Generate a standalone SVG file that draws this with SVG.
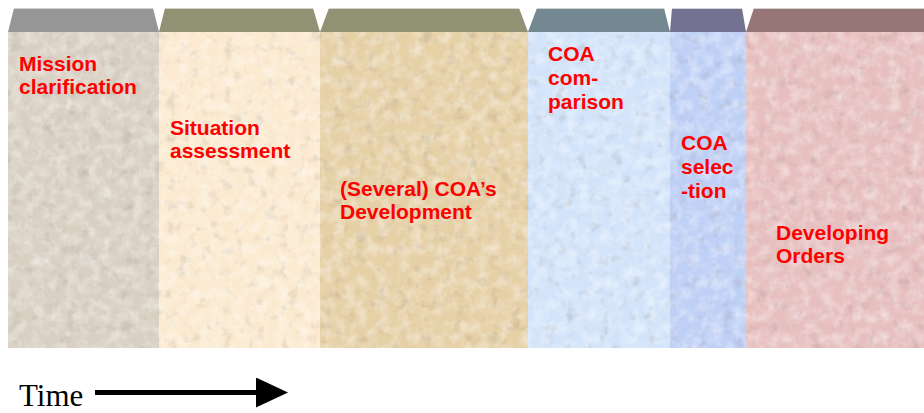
<svg xmlns="http://www.w3.org/2000/svg" width="924" height="413" viewBox="0 0 924 413">
  <defs>
    <!-- fine paper-like mottling laid over each stage body -->
    <filter id="paper" x="0" y="0" width="1" height="1" color-interpolation-filters="sRGB">
      <feTurbulence type="fractalNoise" baseFrequency="0.09" numOctaves="4" seed="7" result="noise"/>
      <feColorMatrix in="noise" type="matrix" values="0 0 0 0 1  0 0 0 0 1  0 0 0 0 1  0 0 0 0.9 -0.35" result="light"/>
      <feColorMatrix in="noise" type="matrix" values="0 0 0 0 0.45  0 0 0 0 0.4  0 0 0 0 0.4  0 -0.5 0 0 0.22" result="dark"/>
      <feMerge result="merged">
        <feMergeNode in="SourceGraphic"/>
        <feMergeNode in="light"/>
        <feMergeNode in="dark"/>
      </feMerge>
      <feComposite in="merged" in2="SourceAlpha" operator="in"/>
    </filter>
    <marker id="arrowhead" viewBox="0 0 32 30" refX="0" refY="15" markerWidth="32" markerHeight="30" markerUnits="userSpaceOnUse" orient="auto">
      <path d="M0,0 L32,15 L0,30 Z" fill="#000"/>
    </marker>
  </defs>
  <style>
    .body { filter: url(#paper); }
    .tab-edge { stroke: #d2d2d2; stroke-width: 1; }
    .label { font-family: "Liberation Sans", Arial, sans-serif; font-weight: bold; font-size: 21px; fill: #ff0000; }
    .axis-label { font-family: "Liberation Serif", "Times New Roman", serif; font-size: 31px; fill: #000; }
  </style>

  <rect width="924" height="413" fill="#ffffff"/>

  <g id="stage-mission">
    <polygon points="8,32 14,8 153,8 159,32" fill="#969696"/>
    <line class="tab-edge" x1="14" y1="8.5" x2="153" y2="8.5"/>
    <rect class="body" x="8" y="32" width="151" height="316" fill="#d9d0c3"/>
    <text class="label" x="19" y="71">Mission</text>
    <text class="label" x="19" y="94">clarification</text>
  </g>

  <g id="stage-situation">
    <polygon points="159,32 165,8 313,8 320,32" fill="#919174"/>
    <line class="tab-edge" x1="165" y1="8.5" x2="313" y2="8.5"/>
    <rect class="body" x="159" y="32" width="161" height="316" fill="#fbead0"/>
    <text class="label" x="170" y="135">Situation</text>
    <text class="label" x="170" y="158">assessment</text>
  </g>

  <g id="stage-development">
    <polygon points="320,32 329,8 519,8 528,32" fill="#919174"/>
    <line class="tab-edge" x1="329" y1="8.5" x2="519" y2="8.5"/>
    <rect class="body" x="320" y="32" width="208" height="316" fill="#e6d0a6"/>
    <text class="label" x="340" y="196">(Several) COA’s</text>
    <text class="label" x="340" y="219">Development</text>
  </g>

  <g id="stage-comparison">
    <polygon points="528,32 537,8 664,8 670,32" fill="#738891"/>
    <line class="tab-edge" x1="537" y1="8.5" x2="664" y2="8.5"/>
    <rect class="body" x="528" y="32" width="142" height="316" fill="#d3e4fa"/>
    <text class="label" x="548" y="61">COA</text>
    <text class="label" x="548" y="85">com-</text>
    <text class="label" x="548" y="109">parison</text>
  </g>

  <g id="stage-selection">
    <polygon points="670,32 672,8 742,8 746,32" fill="#737391"/>
    <line class="tab-edge" x1="672" y1="8.5" x2="742" y2="8.5"/>
    <rect class="body" x="670" y="32" width="76" height="316" fill="#bfd0f6"/>
    <text class="label" x="681" y="150">COA</text>
    <text class="label" x="681" y="174">selec</text>
    <text class="label" x="681" y="198">-tion</text>
  </g>

  <g id="stage-orders">
    <polygon points="746,32 754,8 924,8 924,32" fill="#967676"/>
    <line class="tab-edge" x1="754" y1="8.5" x2="924" y2="8.5"/>
    <rect class="body" x="746" y="32" width="178" height="316" fill="#e7bfbf"/>
    <text class="label" x="776" y="240">Developing</text>
    <text class="label" x="776" y="263">Orders</text>
  </g>

  <g id="connectors">
    <text class="axis-label" x="19" y="406">Time</text>
    <line x1="95" y1="392.5" x2="256" y2="392.5" stroke="#000" stroke-width="5" marker-end="url(#arrowhead)"/>
  </g>
</svg>
